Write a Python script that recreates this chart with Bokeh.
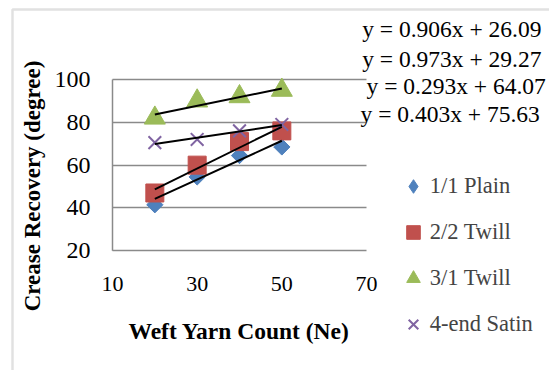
from bokeh.plotting import figure
from bokeh.models import Range1d, FixedTicker, Label, Legend, LegendItem, BoxAnnotation, Grid
from bokeh.embed import file_html
from bokeh.resources import INLINE
import math

# ---- data ----
weft_count = [20, 30, 40, 50]
plain = [41.5, 54.5, 64.5, 68.5]
twill_22 = [47, 60, 71, 76]
twill_31 = [82, 90, 92, 95]
satin = [70.5, 72, 76, 79]
series_names = ["1/1 Plain", "2/2 Twill", "3/1 Twill", "4-end Satin"]
# linear trendlines (label order top to bottom): plain, 2/2 twill, satin, 3/1 twill
trend_slopes = [0.906, 0.973, 0.293, 0.403]
trend_intercepts = [26.09, 29.27, 64.07, 75.63]
x_ticks = [10, 30, 50, 70]
y_ticks = [20, 40, 60, 80, 100]

COLORS = ["#4F81BD", "#C0504D", "#9BBB59", "#8064A2"]
SERIF = "Liberation Serif"
GRID = "#8a8a8a"
W, H = 549, 370
# plot area in canvas pixels (x 10..70, y 20..100)
PX_L, PX_R, PX_T, PX_B = 112.0, 366.0, 79.0, 250.3
sx = (PX_R - PX_L) / (x_ticks[-1] - x_ticks[0])
sy = (PX_B - PX_T) / (y_ticks[-1] - y_ticks[0])

def dx(px):
    return x_ticks[0] + (px - PX_L) / sx

def dy(py):
    return y_ticks[0] + (PX_B - py) / sy

p = figure(width=W, height=H, output_backend="svg", toolbar_location=None,
           x_range=Range1d(dx(0), dx(W)), y_range=Range1d(dy(H), dy(0)),
           min_border=0, min_border_left=0, min_border_right=0,
           min_border_top=0, min_border_bottom=0)
p.title.visible = False
p.outline_line_color = None
p.background_fill_color = "white"
p.border_fill_color = "white"

# grid (horizontal lines limited to the plot area)
p.xgrid.grid_line_color = None
if "cross_bounds" in Grid.properties():
    p.ygrid.grid_line_color = GRID
    p.ygrid.grid_line_width = 1.5
    p.ygrid.ticker = FixedTicker(ticks=y_ticks)
    p.ygrid.cross_bounds = (x_ticks[0], x_ticks[-1])
else:
    p.ygrid.visible = False
    p.segment(x0=[x_ticks[0]] * len(y_ticks), x1=[x_ticks[-1]] * len(y_ticks),
              y0=y_ticks, y1=y_ticks, line_color=GRID, line_width=1.5)

# axes (fixed inside the canvas-wide frame)
p.xaxis.ticker = FixedTicker(ticks=x_ticks)
p.yaxis.ticker = FixedTicker(ticks=y_ticks)
p.xaxis.fixed_location = y_ticks[0]
p.yaxis.fixed_location = x_ticks[0]
p.xaxis.bounds = (x_ticks[0], dx(2 * 241.6 - PX_L))
p.yaxis.bounds = (dy(2 * 185.5 - PX_T), y_ticks[-1])
for ax in (p.xaxis[0], p.yaxis[0]):
    ax.major_tick_in = 0
    ax.major_tick_out = 0
    ax.minor_tick_in = 0
    ax.minor_tick_out = 0
    ax.axis_line_color = None
    ax.major_label_text_font = SERIF
    ax.major_label_text_color = "black"
    ax.axis_label_text_font = SERIF
    ax.axis_label_text_font_style = "bold"
    ax.axis_label_text_color = "black"
p.xaxis.major_label_text_font_size = "22px"
p.yaxis.major_label_text_font_size = "24px"
p.xaxis.major_label_standoff = 26
p.yaxis.major_label_standoff = 22
p.xaxis.axis_label = "Weft Yarn Count  (Ne)"
p.yaxis.axis_label = "Crease Recovery (degree)"
p.xaxis.axis_label_text_font_size = "23.5px"
p.yaxis.axis_label_text_font_size = "23px"
p.xaxis.axis_label_standoff = 24
p.yaxis.axis_label_standoff = 7

# vertical axis line of the plot area
p.segment(x0=[x_ticks[0]], y0=[y_ticks[0]], x1=[x_ticks[0]], y1=[y_ticks[-1]],
          line_color=GRID, line_width=1.5)

# markers
r_plain = p.scatter(weft_count, plain, marker="square", angle=math.pi / 4, size=11.5,
                    fill_color=COLORS[0], line_color=COLORS[0])
r_t22 = p.scatter(weft_count, twill_22, marker="square", size=18,
                  fill_color=COLORS[1], line_color=COLORS[1])
r_t31 = p.scatter(weft_count, twill_31, marker="triangle", size=21,
                  fill_color=COLORS[2], line_color=COLORS[2])
r_sat = p.scatter(weft_count, satin, marker="x", size=18,
                  line_color=COLORS[3], line_width=2)
# legend key for the diamond series (legend keys are drawn unrotated);
# NaN position so it draws nothing in the plot itself
r_plain_key = p.scatter(x=[float("nan")], y=[float("nan")], marker="diamond", size=12,
                        fill_color=COLORS[0], line_color=COLORS[0])

# trendlines
x0, x1 = min(weft_count), max(weft_count)
for m, b in zip(trend_slopes, trend_intercepts):
    p.line([x0, x1], [m * x0 + b, m * x1 + b], line_color="black", line_width=2)

# equation labels
eq_pos = [(361.7, 28.3), (361.7, 58.3), (366.0, 85.3), (360.0, 113.8)]
for (ex, ey), m, b in zip(eq_pos, trend_slopes, trend_intercepts):
    p.add_layout(Label(x=dx(ex), y=dy(ey), text=f"y = {m:.3f}x + {b:.2f}",
                       text_font=SERIF, text_font_size="23.5px", text_color="black",
                       text_baseline="middle", text_align="left"))

# legend
legend = Legend(items=[LegendItem(label=n, renderers=[r]) for n, r in
                       zip(series_names, [r_plain_key, r_t22, r_t31, r_sat])],
                location=(395.7, H - 341.5))
legend.glyph_width = 34
legend.glyph_height = 36
legend.label_height = 36
legend.spacing = 10
legend.padding = 0
legend.margin = 0
legend.label_standoff = 0
legend.label_text_font = SERIF
legend.label_text_font_size = "22.5px"
legend.border_line_color = None
legend.background_fill_alpha = 0
p.add_layout(legend)

# outer chart border (top and left edges visible)
p.add_layout(BoxAnnotation(left=dx(12), right=dx(W + 20), top=dy(9), bottom=dy(H + 20),
                           fill_alpha=0, line_color="#9a9a9a", line_width=2.5))

open("out.html", "w").write(file_html(p, INLINE))
